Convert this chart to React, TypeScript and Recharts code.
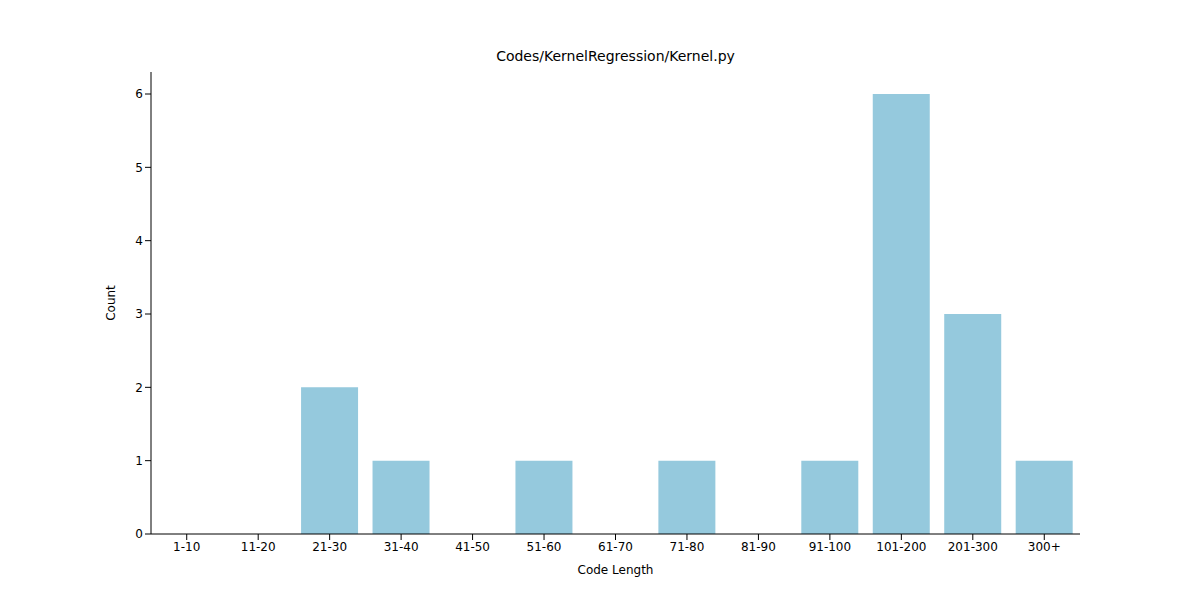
import React from 'react';
import { BarChart, Bar, XAxis, YAxis, Label } from 'recharts';

const categories = ['1-10', '11-20', '21-30', '31-40', '41-50', '51-60', '61-70', '71-80', '81-90', '91-100', '101-200', '201-300', '300+'];
const counts = [0, 0, 2, 1, 0, 1, 0, 1, 0, 1, 6, 3, 1];
const yTicks = [0, 1, 2, 3, 4, 5, 6];

const data = categories.map((name, i) => ({ name, count: counts[i] }));

const font = "'DejaVu Sans', sans-serif";
const tickStyle = { fontSize: 12, fill: '#000', fontFamily: font };

const App: React.FC = () => {
  return (
    <div style={{ position: 'absolute', left: 0, top: 0, width: 1200, height: 600, background: '#fff' }}>
      <div style={{ position: 'absolute', top: 48, width: 1231, textAlign: 'center', fontFamily: font, fontSize: 14 }}>
        Codes/KernelRegression/Kernel.py
      </div>
      <BarChart width={1200} height={600} data={data} margin={{ top: 72, right: 120, left: 101, bottom: 36 }} barCategoryGap="10%">
        <XAxis dataKey="name" tick={tickStyle} tickLine={{ stroke: '#000' }} axisLine={{ stroke: '#000' }} height={30} interval={0}>
          <Label value="Code Length" position="insideBottom" offset={-10} style={{ fontSize: 12, fill: '#000', fontFamily: font }} />
        </XAxis>
        <XAxis xAxisId="top" dataKey="name" orientation="top" tick={false} tickLine={false} axisLine={{ stroke: '#000' }} height={0} />
        <YAxis domain={[0, 6.3]} ticks={yTicks} tick={tickStyle} tickLine={{ stroke: '#000' }} axisLine={{ stroke: '#000' }} width={50}>
          <Label value="Count" angle={-90} position="insideLeft" offset={10} style={{ fontSize: 12, fill: '#000', fontFamily: font, textAnchor: 'middle' }} />
        </YAxis>
        <YAxis yAxisId="right" orientation="right" domain={[0, 6.3]} tick={false} tickLine={false} axisLine={{ stroke: '#000' }} width={0} />
        <Bar dataKey="count" fill="#95c9dd" isAnimationActive={false} />
      </BarChart>
    </div>
  );
};

export default App;
